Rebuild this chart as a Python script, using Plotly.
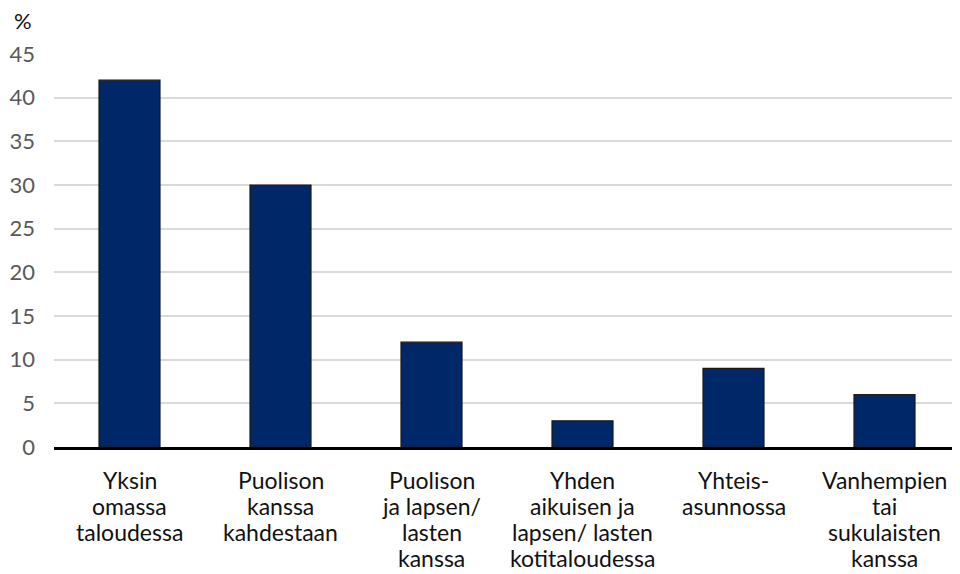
import plotly.graph_objects as go

categories = [
    "Yksin omassa taloudessa",
    "Puolison kanssa kahdestaan",
    "Puolison ja lapsen/ lasten kanssa",
    "Yhden aikuisen ja lapsen/ lasten kotitaloudessa",
    "Yhteis-asunnossa",
    "Vanhempien tai sukulaisten kanssa",
]
label_lines = [
    ["Yksin", "omassa", "taloudessa"],
    ["Puolison", "kanssa", "kahdestaan"],
    ["Puolison", "ja lapsen/", "lasten", "kanssa"],
    ["Yhden", "aikuisen ja", "lapsen/ lasten", "kotitaloudessa"],
    ["Yhteis-", "asunnossa"],
    ["Vanhempien", "tai", "sukulaisten", "kanssa"],
]
values = [42, 30, 12, 3, 9, 6]
y_ticks = [0, 5, 10, 15, 20, 25, 30, 35, 40, 45]

FONT = "Lato, Open Sans, sans-serif"

fig = go.Figure(go.Bar(
    x=categories, y=values,
    marker=dict(color="#002868", line=dict(color="#1a1a1a", width=1.2)),
    hoverinfo="y",
))

annotations = []
for cat, lines in zip(categories, label_lines):
    for i, line in enumerate(lines):
        annotations.append(dict(
            text=line, x=cat, xref="x", y=0, yref="y",
            xanchor="center", yanchor="middle",
            yshift=-(33 + 26 * i), showarrow=False,
            font=dict(family=FONT, size=23, color="#111111"),
        ))

annotations.append(dict(
    text="%", xref="paper", yref="paper", x=-(54 - 12) / 906, y=1.0,
    xanchor="left", yanchor="middle", yshift=34, showarrow=False,
    font=dict(family=FONT, size=22, color="#111111"),
))

fig.update_layout(
    width=960, height=574,
    margin=dict(l=46, r=8, t=46, b=135, autoexpand=False),
    paper_bgcolor="white", plot_bgcolor="white",
    bargap=0.596,
    showlegend=False,
    font=dict(family=FONT, size=22, color="#111111"),
    xaxis=dict(
        showline=True, linecolor="#000000", linewidth=3,
        ticks="", showticklabels=False, automargin=False,
    ),
    yaxis=dict(
        range=[0, 45], tickvals=y_ticks,
        showgrid=True, gridcolor="#d9d9d9", gridwidth=1.5,
        zeroline=False, showline=False, ticks="",
        tickfont=dict(family=FONT, size=22, color="#595959"),
        ticklabelstandoff=18, automargin=False,
    ),
    annotations=annotations,
)

fig.write_html("out.html")
